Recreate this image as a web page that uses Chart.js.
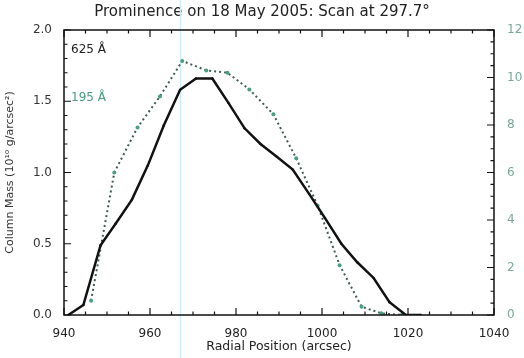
<!DOCTYPE html>
<html>
<head>
<meta charset="utf-8">
<script src="https://cdn.jsdelivr.net/npm/chart.js@4/dist/chart.umd.min.js"></script>
<style>
  html, body { margin: 0; padding: 0; background: #fff; }
  #wrap { width: 524px; height: 358px; }
</style>
</head>
<body>
<div id="wrap"><canvas id="massChart" width="524" height="358"></canvas></div>
<script>
// 625 A column mass (left axis, 10^10 g/arcsec^2)
const radial625 = [941, 944.5, 948.5, 952, 955.8, 959.5, 963.2, 967, 970.7, 974.5, 978.2, 982, 985.7, 989.5, 993.2, 997, 1000.7, 1004.5, 1008.2, 1012, 1015.7, 1019.5, 1023];
const mass625 = [0.0, 0.07, 0.49, 0.64, 0.81, 1.05, 1.33, 1.58, 1.66, 1.66, 1.49, 1.31, 1.20, 1.11, 1.02, 0.85, 0.68, 0.50, 0.37, 0.26, 0.09, 0.0, 0.0];

// 195 A (right axis)
const radial195 = [946.3, 951.7, 957.1, 962.3, 967.5, 973.1, 978, 983.1, 988.7, 994, 999, 1004.1, 1009.2, 1013.8, 1018.5];
const value195 = [0.6, 6.0, 7.9, 9.2, 10.7, 10.3, 10.2, 9.5, 8.45, 6.6, 4.6, 2.1, 0.35, 0.07, 0.0];

const scanLine = 967.1;
const chartTitle = "Prominence on 18 May 2005: Scan at 297.7\u00b0";
const xTitle = "Radial Position (arcsec)";
const yTitle = "Column Mass (10\u00b9\u2070 g/arcsec\u00b2)";
const label625 = "625 \u00c5";
const label195 = "195 \u00c5";

const FONT = "'DejaVu Sans', sans-serif";
const GREEN = "#4a9e82";

// draws frame, inward ticks, scan line and the two line labels
const framePlugin = {
    id: "frame",
    beforeDatasetsDraw(chart) {
        const ctx = chart.ctx;
        const x = chart.scales.x;
        const px = x.getPixelForValue(scanLine);
        ctx.save();
        ctx.strokeStyle = "#cdeef2";
        ctx.lineWidth = 1.5;
        ctx.beginPath();
        ctx.moveTo(px, 0);
        ctx.lineTo(px, chart.height);
        ctx.stroke();
        ctx.restore();
    },
    afterDraw(chart) {
        const ctx = chart.ctx;
        const a = chart.chartArea;
        const x = chart.scales.x, y = chart.scales.y, y1 = chart.scales.y1;
        ctx.save();
        ctx.strokeStyle = "#111";
        ctx.lineWidth = 1.5;
        ctx.strokeRect(a.left, a.top, a.right - a.left, a.bottom - a.top);

        ctx.lineWidth = 1.2;
        ctx.beginPath();
        for (let v = 940; v <= 1040; v += 5) {
            const p = x.getPixelForValue(v);
            const len = v % 20 === 0 ? 7 : 3.5;
            ctx.moveTo(p, a.bottom); ctx.lineTo(p, a.bottom - len);
            ctx.moveTo(p, a.top); ctx.lineTo(p, a.top + len);
        }
        for (let i = 0; i <= 20; i++) {
            const p = y.getPixelForValue(i / 10);
            const len = i % 5 === 0 ? 7 : 3.5;
            ctx.moveTo(a.left, p); ctx.lineTo(a.left + len, p);
        }
        for (let i = 0; i <= 24; i++) {
            const p = y1.getPixelForValue(i / 2);
            const len = i % 4 === 0 ? 7 : 3.5;
            ctx.moveTo(a.right, p); ctx.lineTo(a.right - len, p);
        }
        ctx.stroke();

        ctx.font = "12px " + FONT;
        ctx.textBaseline = "middle";
        ctx.fillStyle = "#222";
        ctx.fillText(label625, a.left + 7, a.top + 20);
        ctx.fillStyle = GREEN;
        ctx.fillText(label195, a.left + 7, a.top + 68);
        ctx.restore();
    }
};

function buildChart() {
    const ctx = document.getElementById("massChart").getContext("2d");
    new Chart(ctx, {
        type: "line",
        data: {
            datasets: [
                {
                    label: label625,
                    data: radial625.map((r, i) => ({ x: r, y: mass625[i] })),
                    borderColor: "#111",
                    borderWidth: 2.5,
                    pointRadius: 1.2,
                    pointBackgroundColor: "#111",
                    pointBorderWidth: 0,
                    yAxisID: "y"
                },
                {
                    label: label195,
                    data: radial195.map((r, i) => ({ x: r, y: value195[i] })),
                    borderColor: "#3d5c52",
                    borderWidth: 2,
                    borderDash: [2, 3],
                    pointRadius: 2,
                    pointBackgroundColor: GREEN,
                    pointBorderWidth: 0,
                    yAxisID: "y1"
                }
            ]
        },
        options: {
            responsive: false,
            animation: false,
            layout: { padding: 0 },
            plugins: {
                legend: { display: false },
                tooltip: { enabled: false },
                title: {
                    display: true,
                    text: chartTitle,
                    color: "#222",
                    font: { family: FONT, size: 15, weight: "normal" },
                    padding: { top: 3, bottom: 9 }
                }
            },
            scales: {
                x: {
                    type: "linear",
                    min: 940,
                    max: 1040,
                    grid: { display: false },
                    border: { display: false },
                    ticks: { stepSize: 20, color: "#222", padding: 4, font: { family: FONT, size: 12 }, maxRotation: 0, callback: v => String(v) },
                    title: { display: true, text: xTitle, color: "#222", font: { family: FONT, size: 12.5 }, padding: { top: 0 } },
                    afterFit(scale) { scale.height = 43; }
                },
                y: {
                    position: "left",
                    min: 0,
                    max: 2,
                    grid: { display: false },
                    border: { display: false },
                    ticks: { stepSize: 0.5, color: "#333", padding: 4, font: { family: FONT, size: 12 }, callback: v => v.toFixed(1) },
                    title: { display: true, text: yTitle, color: "#333", font: { family: FONT, size: 11 }, padding: { bottom: 2 } },
                    afterFit(scale) { scale.width = 64; }
                },
                y1: {
                    position: "right",
                    min: 0,
                    max: 12,
                    grid: { display: false },
                    border: { display: false },
                    ticks: { stepSize: 2, color: "#7aa898", padding: 5, font: { family: FONT, size: 12 } },
                    afterFit(scale) { scale.width = 30; }
                }
            }
        },
        plugins: [framePlugin]
    });
}

window.addEventListener("DOMContentLoaded", buildChart);
</script>
</body>
</html>
